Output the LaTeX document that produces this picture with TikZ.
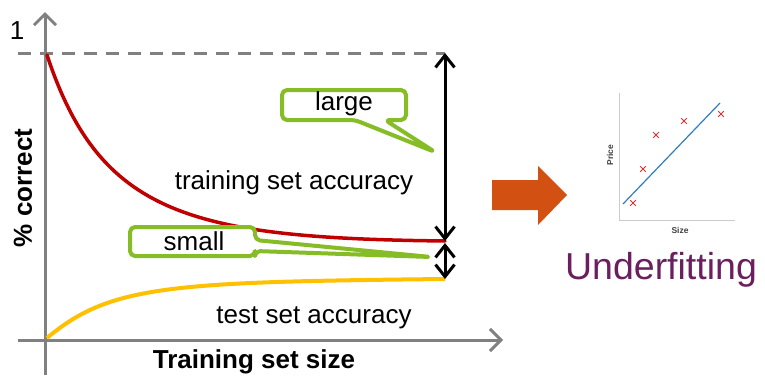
\documentclass[tikz,border=0pt]{standalone}
\usepackage{fontspec}
\setmainfont{Liberation Sans}
\usetikzlibrary{arrows.meta}
\definecolor{axisgrey}{HTML}{808080}
\definecolor{trainred}{HTML}{C00000}
\definecolor{testyellow}{HTML}{FFC000}
\definecolor{calloutgreen}{HTML}{86BC25}
\definecolor{blockorange}{HTML}{D35013}
\definecolor{plum}{HTML}{6B1F5E}
\definecolor{fitblue}{HTML}{2E7DC0}
\definecolor{crossred}{HTML}{E03030}
\tikzset{
  axisline/.style={draw=axisgrey, line width=3pt, -{Straight Barb[length=11pt,width=22pt,line width=3pt]}},
  gapmark/.style={draw=black, line width=3pt, {Straight Barb[length=12pt,width=19pt,line width=3pt]}-{Straight Barb[length=12pt,width=19pt,line width=3pt]}},
  label26/.style={font=\fontsize{26}{28}\selectfont, inner sep=0pt},
  bold26/.style={font=\fontsize{26}{28}\selectfont\bfseries, inner sep=0pt},
  callout/.style={draw=calloutgreen, fill=white, line width=4pt, line join=round, rounded corners=5pt},
  cross/.style={draw=crossred, line width=0.9pt},
  minilabel/.style={font=\fontsize{8.5}{9}\selectfont\bfseries, text=black!75, inner sep=0pt},
}
\begin{document}
\begin{tikzpicture}[x=1pt, y=-1pt]
\useasboundingbox (0,0) rectangle (765,375);

% axes
\coordinate (yb) at (45,375);
\coordinate (yt) at (45,12);
\coordinate (xl) at (18,340);
\coordinate (xr) at (503,340);
\draw[axisline] (yb) -- (yt);
\draw[axisline] (xl) -- (xr);

% level of perfect accuracy
\coordinate (dl) at (18,53);
\coordinate (dr) at (445,53);
\draw[axisgrey, line width=3pt, dash pattern=on 13pt off 9pt] (dl) -- (dr);
\node[label26] (one) at (17,31) {1};

% accuracy curves
\coordinate (rs) at (47,55);
\coordinate (re) at (445,241);
\coordinate (ys) at (47,338);
\coordinate (ye) at (445,279);
\draw[trainred, line width=3.5pt, line cap=round]
  (rs) .. controls (100,215) and (190,238) .. (re);
\draw[testyellow, line width=4pt]
  (ys) .. controls (110,285) and (170,282) .. (ye);

% gap markers
\draw[gapmark] (dr) -- (re);
\coordinate (re2) at (445,243);
\draw[gapmark] (re2) -- (ye);

% text labels
\node[label26] (train) at (294,183) {training set accuracy};
\node[label26] (test) at (314,318) {test set accuracy};
\node[bold26] (xlab) at (254,362) {Training set size};
\node[bold26, rotate=90] (ylab) at (23,188) {\% correct};

% callouts
\draw[callout] (282,90) -- (406,90) -- (406,120) -- (385,120) -- (435,152) -- (355,120) -- (282,120) -- cycle;
\node[label26] (large) at (344,104) {large};
\draw[callout] (130,227) -- (255,227) -- (255,240) -- (431,257) -- (255,251) -- (255,256) -- (130,256) -- cycle;
\node[label26] (small) at (194,241) {small};

% block arrow
\fill[blockorange] (492,180) -- (538,180) -- (538,166) -- (567,195) -- (538,225) -- (538,210) -- (492,210) -- cycle;

% small price/size plot
\coordinate (po) at (619,220);
\draw[black!20, line width=0.7pt] (619,93) -- (po) -- (735,220);
\coordinate (fa) at (623,204);
\coordinate (fb) at (720,103);
\draw[fitblue, line width=1.2pt] (fa) -- (fb);
\foreach \px/\py in {633/203, 643/169, 656/135, 684/121, 721/114}{
  \draw[cross] (\px-2.8,\py-2.8) -- (\px+2.8,\py+2.8) (\px-2.8,\py+2.8) -- (\px+2.8,\py-2.8);
}
\node[minilabel, rotate=90] (price) at (610,155) {Price};
\node[minilabel] (size) at (680,230) {Size};

\node[font=\fontsize{37.5}{40}\selectfont, text=plum, inner sep=0pt] (under) at (661,270) {Underfitting};
\end{tikzpicture}
\end{document}
